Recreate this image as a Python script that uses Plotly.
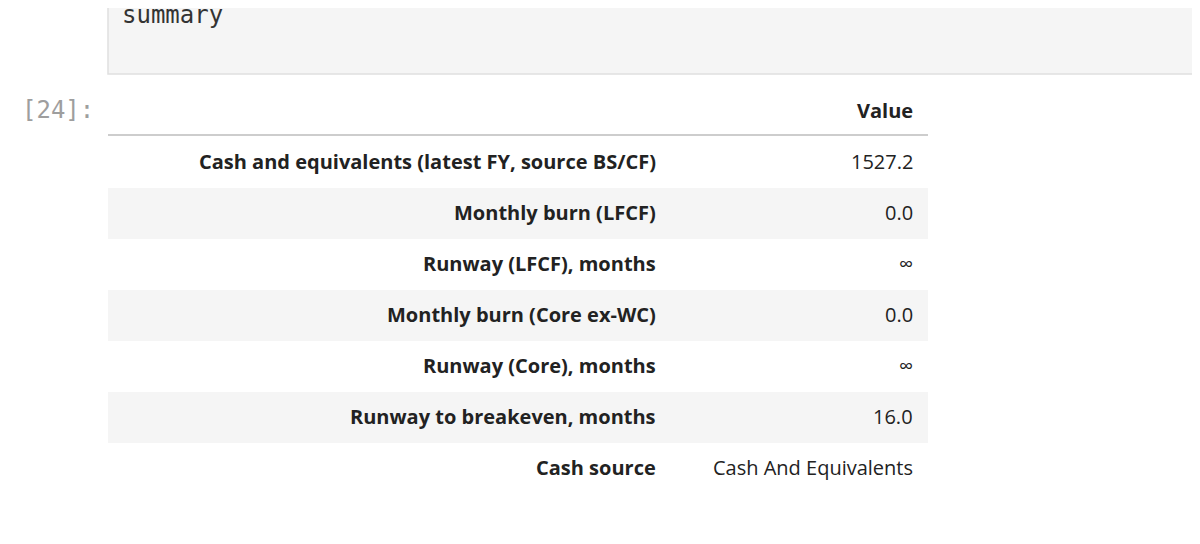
import plotly.graph_objects as go

cell_label = "[24]:"
code_text = "summary"
header = "Value"
row_labels = ["Cash and equivalents (latest FY, source BS/CF)", "Monthly burn (LFCF)",
              "Runway (LFCF), months", "Monthly burn (Core ex-WC)", "Runway (Core), months",
              "Runway to breakeven, months", "Cash source"]
row_values = ["1527.2", "0.0", "∞", "0.0", "∞", "16.0", "Cash And Equivalents"]

OX, OY = -8, -8  # compensate page body margin
fnt = "Open Sans"
fig = go.Figure()
shapes = [
    dict(type="rect", x0=108+OX, x1=1215, y0=-20, y1=74+OY, fillcolor="#f5f5f5",
         line=dict(color="#e0e0e0", width=1.5), layer="below"),
    dict(type="line", x0=108+OX, x1=928+OX, y0=135+OY, y1=135+OY, line=dict(color="#bdbdbd", width=1.5)),
]
row_h = 51
top = 137
for i in range(len(row_labels)):
    if i % 2 == 1:
        shapes.append(dict(type="rect", x0=108+OX, x1=928+OX, y0=top + i*row_h + OY,
                           y1=top + (i+1)*row_h + OY, fillcolor="#f5f5f5", line=dict(width=0),
                           layer="below"))
ann = [
    dict(x=120+OX, y=15+OY, text=code_text, xanchor="left", yanchor="middle", showarrow=False,
         font=dict(family="DejaVu Sans Mono", size=24, color="#333")),
    dict(x=96+OX, y=110+OY, text=cell_label, xanchor="right", yanchor="middle", showarrow=False,
         font=dict(family="DejaVu Sans Mono", size=24, color="#9e9e9e")),
    dict(x=915+OX, y=110+OY, text="<b>" + header + "</b>", xanchor="right", yanchor="middle",
         showarrow=False, font=dict(family=fnt, size=20, color="#222")),
]
for i, (lab, val) in enumerate(zip(row_labels, row_values)):
    yc = top + i*row_h + row_h/2 - 1 + OY
    ann.append(dict(x=658+OX, y=yc, text="<b>" + lab + "</b>", xanchor="right", yanchor="middle",
                    showarrow=False, font=dict(family=fnt, size=20, color="#222")))
    ann.append(dict(x=915+OX, y=yc, text=val, xanchor="right", yanchor="middle",
                    showarrow=False, font=dict(family=fnt, size=20, color="#222")))

fig.update_layout(width=1200, height=544, margin=dict(l=0, r=0, t=0, b=0),
                  paper_bgcolor="white", plot_bgcolor="white", shapes=shapes, annotations=ann,
                  xaxis=dict(range=[0, 1200], visible=False, fixedrange=True),
                  yaxis=dict(range=[544, 0], visible=False, fixedrange=True), showlegend=False)
fig.write_html("out.html", config={"displayModeBar": False})
